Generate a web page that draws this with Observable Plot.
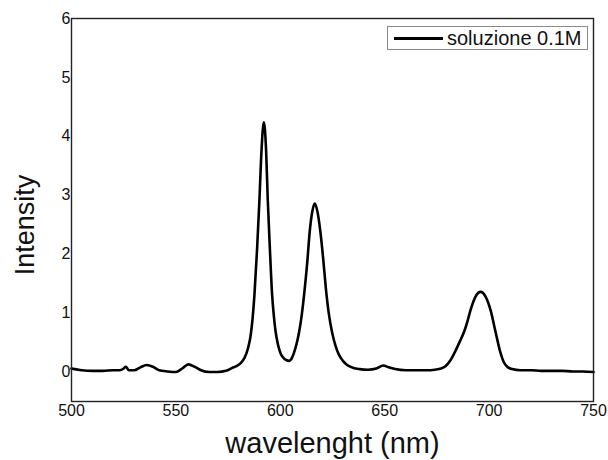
<!DOCTYPE html>
<html>
<head>
<meta charset="utf-8">
<script src="https://cdn.jsdelivr.net/npm/d3@7"></script>
<script src="https://cdn.jsdelivr.net/npm/@observablehq/plot@0.6"></script>
<style>
  html, body { margin: 0; padding: 0; background: #fff; }
  #wrap { position: relative; width: 608px; height: 460px; font-family: "Liberation Sans", Arial, sans-serif; }
  #legend { position: absolute; left: 387px; top: 26px; width: 199px; height: 22px; border: 1px solid #8a8a8a; background: #fff; }
  #legend .ln { position: absolute; left: 6px; top: 10px; width: 49px; height: 3px; background: #000; }
  #legend .tx { position: absolute; left: 59px; top: 0px; line-height: 23px; font-size: 20px; color: #111; white-space: nowrap; }
</style>
</head>
<body>
<div id="wrap"></div>
<script>
const seriesName = "soluzione 0.1M";
const xLabel = "wavelenght (nm)";
const yLabel = "Intensity";
const xTicks = [500, 550, 600, 650, 700, 750];
const yTicks = [0, 1, 2, 3, 4, 5, 6];

const wavelength = [500, 505, 510, 515, 520, 523, 525, 526, 527.5, 530, 533, 536, 539, 542, 546, 550, 553, 556, 559, 562, 566, 570, 574, 577, 579, 581, 583, 584.5, 585.7, 586.7, 587.6, 588.9, 590, 591, 592.1, 593.2, 594, 595, 596.1, 597, 597.7, 598.8, 600.1, 601.5, 603, 604.2, 605.3, 606.5, 607.8, 608.9, 610.2, 611.8, 613, 614, 615.3, 616.5, 617.8, 619.3, 620.6, 621.8, 623.2, 624.9, 626.5, 628, 630, 632, 635, 638, 642, 646, 649.3, 652, 655, 660, 665, 670, 674, 677, 679.1, 681.5, 683.9, 686, 688.2, 689.7, 691.1, 693.5, 695.9, 698.3, 700.7, 703.1, 705.5, 707, 708.7, 711, 715, 720, 725, 730, 735, 740, 745, 750];
const intensity = [0.06, 0.03, 0.02, 0.02, 0.03, 0.03, 0.06, 0.09, 0.03, 0.03, 0.08, 0.12, 0.09, 0.03, 0.01, 0.0, 0.06, 0.13, 0.09, 0.03, 0.0, 0.0, 0.02, 0.07, 0.1, 0.15, 0.25, 0.4, 0.6, 0.9, 1.3, 2.1, 2.92, 3.76, 4.24, 3.76, 2.92, 2.1, 1.3, 0.92, 0.7, 0.48, 0.32, 0.24, 0.2, 0.19, 0.22, 0.32, 0.48, 0.66, 0.95, 1.45, 1.9, 2.35, 2.72, 2.86, 2.72, 2.35, 1.9, 1.43, 1.0, 0.66, 0.44, 0.3, 0.19, 0.12, 0.07, 0.05, 0.04, 0.06, 0.11, 0.08, 0.05, 0.03, 0.03, 0.03, 0.04, 0.06, 0.1, 0.2, 0.36, 0.52, 0.7, 0.87, 1.05, 1.28, 1.36, 1.28, 1.05, 0.68, 0.32, 0.17, 0.09, 0.05, 0.03, 0.03, 0.02, 0.02, 0.02, 0.01, 0.01, 0.0];

const data = wavelength.map((w, i) => ({w, v: intensity[i]}));

const chart = Plot.plot({
  width: 608,
  height: 460,
  marginLeft: 71,
  marginRight: 15,
  marginTop: 18,
  marginBottom: 59,
  style: {fontFamily: '"Liberation Sans", Arial, sans-serif', fontSize: "16px", color: "#111", background: "#fff"},
  x: {domain: [500, 750], label: null},
  y: {domain: [-0.5, 6], label: null},
  marks: [
    Plot.axisX({ticks: xTicks, tickSize: 0, tickPadding: 3, tickFormat: d3.format("d"), label: null, fontSize: 16}),
    Plot.axisY({ticks: yTicks, tickSize: 0, tickPadding: 1, tickFormat: d3.format("d"), label: null, fontSize: 16}),
    Plot.line(data, {x: "w", y: "v", stroke: "#000", strokeWidth: 2.6, curve: "monotone-x"}),
    Plot.frame({stroke: "#222", strokeWidth: 1.4}),
    Plot.text([yLabel], {text: d => d, frameAnchor: "left", textAnchor: "middle", lineAnchor: "middle", rotate: -90, dx: -46, dy: 15, fontSize: 27, fill: "#111"}),
    Plot.text([xLabel], {text: d => d, frameAnchor: "bottom", textAnchor: "middle", lineAnchor: "middle", dy: 42.5, fontSize: 29, fill: "#111"})
  ]
});

const wrap = document.getElementById("wrap");
wrap.appendChild(chart);
const leg = document.createElement("div");
leg.id = "legend";
leg.innerHTML = '<div class="ln"></div><div class="tx"></div>';
leg.querySelector(".tx").textContent = seriesName;
wrap.appendChild(leg);
</script>
</body>
</html>
